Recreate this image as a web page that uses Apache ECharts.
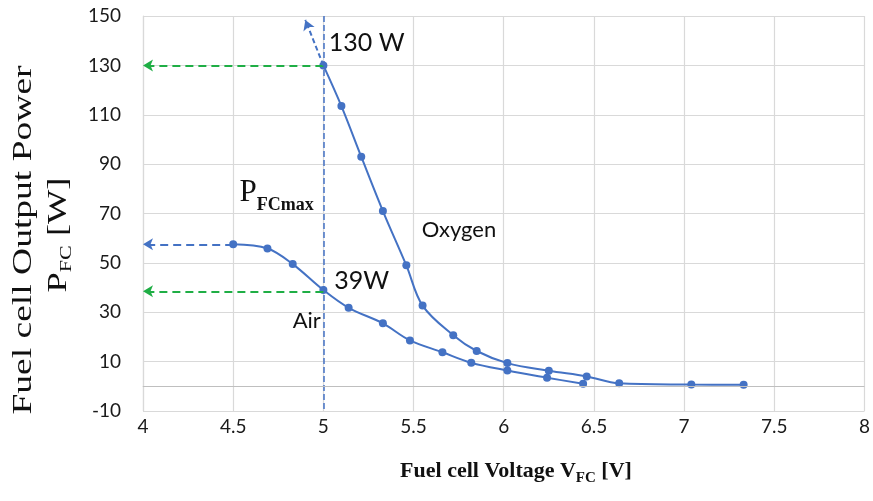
<!DOCTYPE html>
<html><head><meta charset="utf-8">
<script src="https://cdn.jsdelivr.net/npm/echarts@6/dist/echarts.min.js"></script>
<style>html,body{margin:0;padding:0;background:#fff}#c{width:873px;height:501px}</style>
</head><body><div id="c"></div>
<script>
// ---- data ----
const oxygenV = [5.00, 5.10, 5.21, 5.33, 5.46, 5.55, 5.72, 5.85, 6.02, 6.25, 6.46, 6.64, 7.04, 7.33];
const oxygenP = [130, 113.5, 93, 71, 49, 32.7, 20.7, 14.3, 9.4, 6.3, 4.0, 1.2, 0.7, 0.6];
const airV = [4.50, 4.69, 4.83, 5.00, 5.14, 5.33, 5.48, 5.66, 5.82, 6.02, 6.24, 6.44];
const airP = [57.5, 55.8, 49.5, 39, 31.8, 25.5, 18.6, 13.8, 9.5, 6.4, 3.5, 1.0];
const xRange = [4, 8, 0.5];
const yRange = [-10, 150, 20];
const vMax = 5;            // voltage of maximum power
const pMaxOxygen = 130;
const pMaxAir = 38.5;
const airPlateau = 57.5;
const oxygenArrowTip = [4.9, 148.4];
const annotations = [
  {text: '130 W', coord: [5.03, 139.2], size: 25},
  {text: '39W', coord: [5.06, 42.5], size: 25},
  {text: 'Oxygen', coord: [5.545, 63.2], size: 22},
  {text: 'Air', coord: [4.83, 26.4], size: 22}
];
const pmaxLabelCoord = [4.535, 77];

const BLUE = '#4472c4', GREEN = '#1fae45', GRID = '#d9d9d9';
const chart = echarts.init(document.getElementById('c'), null, {renderer: 'canvas'});

function arrowLine(from, to, color, dash) {
  return [
    {coord: from, symbol: 'none', lineStyle: {color: color, type: dash, width: 2}},
    {coord: to, symbol: 'arrow', symbolSize: [9, 10]}
  ];
}

const markLines = [
  [{coord: [vMax, yRange[1]], symbol: 'none', lineStyle: {color: BLUE, type: [6, 3], width: 1.5}}, {coord: [vMax, yRange[0]], symbol: 'none'}],
  [{coord: [xRange[0], 0], symbol: 'none', lineStyle: {color: '#bfbfbf', type: 'solid', width: 1.2}}, {coord: [xRange[1], 0], symbol: 'none'}],
  arrowLine([vMax, pMaxOxygen], [xRange[0], pMaxOxygen], GREEN, [8, 5]),
  arrowLine([vMax, pMaxAir], [xRange[0], pMaxAir], GREEN, [8, 5]),
  arrowLine([airV[0], airPlateau], [xRange[0], airPlateau], BLUE, [8, 5]),
  arrowLine([vMax, pMaxOxygen], oxygenArrowTip, BLUE, [5, 3])
];

const markPoints = annotations.map(a => ({
  coord: a.coord, symbol: 'circle', symbolSize: 0,
  label: {show: true, formatter: a.text, position: [0, 0], align: 'left', verticalAlign: 'middle',
    fontFamily: 'Lato', fontSize: a.size, color: '#111'}
}));
markPoints.push({
  coord: pmaxLabelCoord, symbol: 'circle', symbolSize: 0,
  label: {show: true, formatter: '{p|P}{s|FCmax}', position: [0, 0], align: 'left', verticalAlign: 'middle',
    rich: {
      p: {fontFamily: 'Liberation Serif', fontSize: 31, color: '#111', lineHeight: 31, verticalAlign: 'top'},
      s: {fontFamily: 'Liberation Serif', fontWeight: 'bold', fontSize: 18, color: '#111', lineHeight: 37, verticalAlign: 'bottom'}
    }}
});

const option = {
  animation: false,
  backgroundColor: '#fff',
  grid: {left: 143, right: 3, top: 16, bottom: 90},
  xAxis: {
    type: 'value', min: xRange[0], max: xRange[1], interval: xRange[2],
    axisLine: {show: true, lineStyle: {color: GRID, width: 1.2}},
    axisTick: {show: false},
    splitLine: {show: true, lineStyle: {color: GRID, width: 1.2}},
    axisLabel: {fontFamily: 'Lato', fontSize: 19, color: '#1a1a1a', margin: 6,
      formatter: v => String(v)}
  },
  yAxis: {
    type: 'value', min: yRange[0], max: yRange[1], interval: yRange[2],
    axisLine: {show: true, lineStyle: {color: GRID, width: 1.2}},
    axisTick: {show: false},
    splitLine: {show: true, lineStyle: {color: GRID, width: 1.2}},
    axisLabel: {fontFamily: 'Lato', fontSize: 19, color: '#1a1a1a', margin: 22}
  },
  graphic: [
    {type: 'text', x: 24, y: 240, rotation: Math.PI / 2, scaleX: 1.34, scaleY: 1,
      style: {text: 'Fuel cell Output Power', fontFamily: 'Liberation Serif', fontSize: 28, fill: '#111',
        align: 'center', verticalAlign: 'middle'}},
    {type: 'text', x: 60, y: 235, rotation: Math.PI / 2, scaleX: 1.3, scaleY: 1,
      style: {text: '{p|P}{s|FC}{p| [W]}', align: 'center', verticalAlign: 'middle',
        rich: {
          p: {fontFamily: 'Liberation Serif', fontSize: 28, fill: '#111', lineHeight: 28, verticalAlign: 'top'},
          s: {fontFamily: 'Liberation Serif', fontSize: 17, fill: '#111', lineHeight: 31, verticalAlign: 'bottom'}
        }}},
    {type: 'text', x: 516, y: 473,
      style: {text: '{m|Fuel cell Voltage V}{s|FC}{m| [V]}', align: 'center', verticalAlign: 'middle',
        rich: {
          m: {fontFamily: 'Liberation Serif', fontWeight: 'bold', fontSize: 22, fill: '#111', lineHeight: 22, verticalAlign: 'top'},
          s: {fontFamily: 'Liberation Serif', fontWeight: 'bold', fontSize: 15, fill: '#111', lineHeight: 26, verticalAlign: 'bottom'}
        }}}
  ],
  series: [
    {
      type: 'line', name: 'Oxygen', data: oxygenV.map((v, i) => [v, oxygenP[i]]),
      smooth: 0.35, symbol: 'circle', symbolSize: 8,
      lineStyle: {color: BLUE, width: 2}, itemStyle: {color: BLUE},
      markLine: {silent: true, label: {show: false}, data: markLines},
      markPoint: {silent: true, data: markPoints}
    },
    {
      type: 'line', name: 'Air', data: airV.map((v, i) => [v, airP[i]]),
      smooth: 0.35, symbol: 'circle', symbolSize: 8,
      lineStyle: {color: BLUE, width: 2}, itemStyle: {color: BLUE}
    }
  ]
};
chart.setOption(option);
</script></body></html>
